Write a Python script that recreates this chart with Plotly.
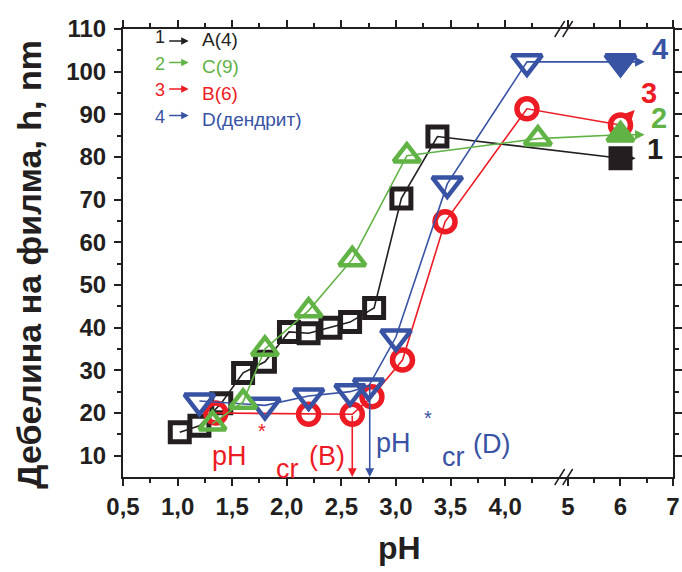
import plotly.graph_objects as go

# ---------------- data ----------------
ph_A = [1.02, 1.2, 1.4, 1.6, 1.8, 2.02, 2.2, 2.4, 2.58, 2.8, 3.05, 3.38, 6.0]
h_A = [15.5, 17.0, 22.3, 29.4, 32.0, 39.0, 38.7, 40.0, 41.3, 44.6, 70.3, 84.8, 79.7]

ph_C = [1.32, 1.6, 1.8, 2.2, 2.6, 3.1, 4.3, 6.0]
h_C = [17.5, 22.6, 35.0, 44.0, 56.0, 80.3, 84.3, 85.2]

ph_B = [1.35, 2.2, 2.6, 2.78, 3.06, 3.45, 4.2, 6.0]
h_B = [20.0, 19.7, 19.7, 23.8, 32.4, 64.8, 91.3, 87.5]

ph_D = [1.2, 1.8, 2.2, 2.58, 2.75, 3.0, 3.47, 4.2, 6.0]
h_D = [22.8, 21.8, 24.0, 25.0, 26.3, 37.8, 73.7, 102.3, 102.3]

ph_cr_B = 2.6
h_cr_B = 19.7
ph_cr_D = 2.76
h_cr_D = 27.0

x_major = [0.5, 1.0, 1.5, 2.0, 2.5, 3.0, 3.5, 4.0, 5, 6, 7]
x_major_text = ["0,5", "1,0", "1,5", "2,0", "2,5", "3,0", "3,5", "4,0", "5", "6", "7"]
x_minor = [0.75, 1.25, 1.75, 2.25, 2.75, 3.25, 3.75, 4.25, 5.5, 6.5]
y_major = [10, 20, 30, 40, 50, 60, 70, 80, 90, 100, 110]
y_minor = [15, 25, 35, 45, 55, 65, 75, 85, 95, 105]

legend_nums = ["1", "2", "3", "4"]
legend_names = ["A(4)", "C(9)", "B(6)", "D(дендрит)"]

# ---------------- broken x axis mapping ----------------
BREAK_L = 4.53
BREAK_R = 4.905
RIGHT_SCALE = 52.5 / 109.15


def tx(p):
    if p <= BREAK_L:
        return p
    return BREAK_L + (p - BREAK_R) * RIGHT_SCALE


def txl(lst):
    return [tx(v) for v in lst]


BLACK = "#231f20"
GREEN = "#62b346"
RED = "#ed1c24"
BLUE = "#3853a4"
FONT = "Liberation Sans, Arial, sans-serif"

# plot area geometry in pixels (for decorations)
W, H = 682, 572
L, R, T, B = 123.3, 673.3, 29.0, 477.0


def pxx(px):
    return (px - L) / (R - L)


def pxy(py):
    return (B - py) / (B - T)


fig = go.Figure()

series = [
    (ph_A, h_A, BLACK, "square-open", "square", 19, 5),
    (ph_B, h_B, RED, "circle-open", "circle-open", 20, 5.5),
    (ph_D, h_D, BLUE, "triangle-down-open", "triangle-down", 26, 4.5),
    (ph_C, h_C, GREEN, "triangle-up-open", "triangle-up", 23, 4.5),
]
for xs, ys, col, sym, last_sym, size, lw in series:
    syms = [sym] * (len(xs) - 1) + [last_sym]
    fig.add_trace(go.Scatter(
        x=txl(xs), y=ys, mode="lines+markers",
        line=dict(color=col, width=1.6),
        marker=dict(symbol=syms, size=size, color=col,
                    line=dict(color=col, width=lw)),
        showlegend=False, hoverinfo="skip"))

ann = []
# critical pH arrows
for phc, hc, col in [(ph_cr_B, h_cr_B, RED), (ph_cr_D, h_cr_D, BLUE)]:
    ann.append(dict(x=tx(phc), y=5, ax=tx(phc), ay=hc, xref="x", yref="y",
                    axref="x", ayref="y", text="", showarrow=True,
                    arrowhead=2, arrowsize=1.1, arrowwidth=1.6, arrowcolor=col,
                    standoff=0))


def lbl(px, py, text, col, size):
    ann.append(dict(x=pxx(px), y=pxy(py), xref="paper", yref="paper",
                    text=text, showarrow=False, xanchor="center", yanchor="middle",
                    font=dict(family=FONT, size=size, color=col)))


# pH*cr labels
lbl(230, 456, "pH", RED, 27)
lbl(262, 431, "*", RED, 20)
lbl(288, 469, "cr", RED, 27)
lbl(327, 456, "(B)", RED, 27)
lbl(394, 443, "pH", BLUE, 27)
lbl(428, 418, "*", BLUE, 20)
lbl(454, 457, "cr", BLUE, 27)
lbl(492, 444, "(D)", BLUE, 27)

# right-side numbers with short arrows
ends = [
    (h_A[-1], 6.29, h_A[-1], BLACK, "1", 655, 149),
    (h_C[-1], 6.46, h_C[-1], GREEN, "2", 659, 118),
    (h_B[-1], 6.27, 91.0, RED, "3", 649, 93),
    (h_D[-1], 6.46, h_D[-1], BLUE, "4", 660, 49),
]
for y0, xtip, ytip, col, num, lx, ly in ends:
    ann.append(dict(x=tx(xtip), y=ytip, ax=tx(6.0), ay=y0, xref="x", yref="y",
                    axref="x", ayref="y", text="", showarrow=True,
                    arrowhead=2, arrowsize=1.2, arrowwidth=1.6, arrowcolor=col,
                    startstandoff=10, standoff=0))
    ann.append(dict(x=pxx(lx), y=pxy(ly), xref="paper", yref="paper", text="<b>%s</b>" % num,
                    showarrow=False, xanchor="center", yanchor="middle",
                    font=dict(family=FONT, size=29, color=col)))

# top-left legend-like block
cols = [BLACK, GREEN, RED, BLUE]
for i, (num, name, col) in enumerate(zip(legend_nums, legend_names, cols)):
    ytxt = 39 + 26.5 * i
    ann.append(dict(x=pxx(160), y=pxy(ytxt - 2), xref="paper", yref="paper", text=num,
                    showarrow=False, xanchor="center", yanchor="middle",
                    font=dict(family=FONT, size=18, color=col)))
    ann.append(dict(x=pxx(189), y=pxy(ytxt + 2 - 5 * (i > 0)), xref="paper", yref="paper",
                    ax=-21, ay=0, text="", showarrow=True, arrowhead=2, arrowsize=1,
                    arrowwidth=1.5, arrowcolor=col, standoff=0))
    ann.append(dict(x=pxx(200), y=pxy(ytxt + 1), xref="paper", yref="paper", text=name,
                    showarrow=False, xanchor="left", yanchor="middle",
                    font=dict(family=FONT, size=19, color=col)))

# axis titles
ann.append(dict(x=pxx(29), y=pxy(264), xref="paper", yref="paper",
                text="<b>Дебелина на филма, h, nm</b>", textangle=-90,
                showarrow=False, xanchor="center", yanchor="middle",
                font=dict(family=FONT, size=34, color=BLACK)))
ann.append(dict(x=pxx(400), y=pxy(548), xref="paper", yref="paper",
                text="<b>pH</b>", showarrow=False, xanchor="center", yanchor="middle",
                font=dict(family=FONT, size=32, color=BLACK)))

# axis break marks
shapes = []
for py in (B, T):
    for dx in (0, 8):
        shapes.append(dict(type="line", xref="paper", yref="paper",
                           x0=pxx(555 + dx), y0=pxy(py + 8), x1=pxx(565 + dx), y1=pxy(py - 8),
                           line=dict(color=BLACK, width=1.5)))

axis_common = dict(showline=True, linecolor=BLACK, linewidth=2, mirror="ticks",
                   ticks="outside", tickcolor=BLACK, tickwidth=1.5, ticklen=7,
                   showgrid=False, zeroline=False, automargin=False,
                   tickfont=dict(family=FONT, size=24, color=BLACK))

fig.update_layout(
    width=W, height=H,
    margin=dict(l=L, r=W - R, t=T, b=H - B, pad=0, autoexpand=False),
    paper_bgcolor="white", plot_bgcolor="white",
    xaxis=dict(range=[0.5, tx(7)], tickmode="array", tickvals=txl(x_major),
               ticktext=["<b>%s</b>" % t for t in x_major_text],
               minor=dict(tickmode="array", tickvals=txl(x_minor), ticks="outside",
                          ticklen=4, tickcolor=BLACK, tickwidth=1.5),
               **axis_common),
    yaxis=dict(range=[5, 110], tickmode="array", tickvals=y_major,
               ticktext=["<b>%d</b>" % v for v in y_major],
               minor=dict(tickmode="array", tickvals=y_minor, ticks="outside",
                          ticklen=4, tickcolor=BLACK, tickwidth=1.5),
               ticklabelstandoff=3,
               **axis_common),
    annotations=ann, shapes=shapes,
)

fig.write_html("out.html")
